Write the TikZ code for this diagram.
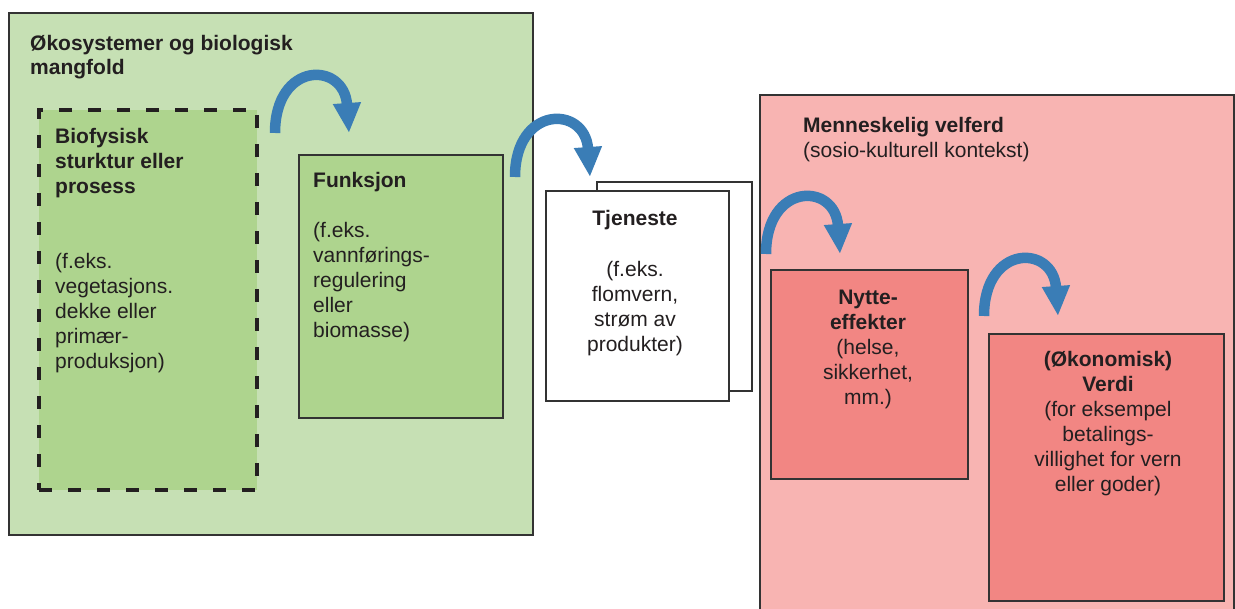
\documentclass[tikz,border=0pt]{standalone}
\usepackage{fontspec}
\setmainfont{Liberation Sans}
\usetikzlibrary{arrows.meta}
\definecolor{ecoout}{HTML}{C6E0B4}
\definecolor{ecoin}{HTML}{AED48E}
\definecolor{welout}{HTML}{F8B4B2}
\definecolor{welin}{HTML}{F28683}
\definecolor{flow}{HTML}{3A7DB6}
\definecolor{ink}{HTML}{231F20}
\definecolor{edge}{HTML}{333333}
\begin{document}
\begin{tikzpicture}[x=1pt,y=-1pt,
  box/.style={draw=edge, line width=2.5pt, inner sep=0pt, outer sep=0pt, anchor=north west},
  txt/.style={inner sep=0pt, text=ink, font=\fontsize{21}{25}\selectfont},
  flowarrow/.style={draw=flow, line width=10.5pt, -{Triangle[length=30pt,width=26pt]}},
]
\useasboundingbox (0,0) rectangle (1235,609);
\clip (0,0) rectangle (1235,609);
\fill[white] (0,0) rectangle (1235,609);
% ecosystem side
\node[box, fill=ecoout, minimum width=524pt, minimum height=522pt] (eco) at (9,13) {};
\node[box, fill=ecoin, draw=ink, line width=4pt, dash pattern=on 13pt off 16pt,
      minimum width=218pt, minimum height=380pt] (bio) at (39,110) {};
\node[box, fill=ecoin, minimum width=204pt, minimum height=263pt] (fun) at (299,155) {};
% service
\node[box, fill=white, minimum width=155pt, minimum height=209pt] (tjback) at (597,182) {};
\node[box, fill=white, minimum width=183pt, minimum height=210pt] (tj) at (546,191) {};
% welfare side
\node[box, fill=welout, line width=2pt, minimum width=474pt, minimum height=530pt] (wel) at (760,95) {};
\node[box, fill=welin, minimum width=197pt, minimum height=209pt] (nyt) at (771,270) {};
\node[box, fill=welin, minimum width=235pt, minimum height=267pt] (ver) at (989,334) {};
% texts
\node[txt, anchor=north west, align=left, font=\fontsize{21}{24}\selectfont\bfseries] (ecot) at (30,34.7)
  {Økosystemer og biologisk\\mangfold};
\node[txt, anchor=north west, align=left, font=\fontsize{21}{25}\selectfont\bfseries] (biot) at (55,127.7)
  {Biofysisk\\sturktur eller\\prosess};
\node[txt, anchor=north west, align=left] (biob) at (55,252.7)
  {(f.eks.\\vegetasjons.\\dekke eller\\primær-\\produksjon)};
\node[txt, anchor=north west, align=left, font=\fontsize{21}{25}\selectfont\bfseries] (funt) at (313,171.7)
  {Funksjon};
\node[txt, anchor=north west, align=left] (funb) at (313,221.7)
  {(f.eks.\\vannførings-\\regulering\\eller\\biomasse)};
\node[txt, anchor=north, align=center, font=\fontsize{21}{25}\selectfont\bfseries] (tjt) at (635,209.7)
  {Tjeneste};
\node[txt, anchor=north, align=center] (tjb) at (635,260.7)
  {(f.eks.\\flomvern,\\strøm av\\produkter)};
\node[txt, anchor=north west, align=left] (welt) at (803,116.7)
  {\textbf{Menneskelig velferd}\\(sosio-kulturell kontekst)};
\node[txt, anchor=north, align=center] (nytt) at (868,289.7)
  {\textbf{Nytte-}\\\textbf{effekter}\\(helse,\\sikkerhet,\\mm.)};
\node[txt, anchor=north, align=center] (vert) at (1108,350.7)
  {\textbf{(Økonomisk)}\\\textbf{Verdi}\\(for eksempel\\betalings-\\villighet for vern\\eller goder)};
% flow arrows
\coordinate (a1s) at (275,133); \coordinate (a1e) at (349,133);
\coordinate (a2s) at (515,177); \coordinate (a2e) at (590,177);
\coordinate (a3s) at (766,254); \coordinate (a3e) at (840,254);
\coordinate (a4s) at (984,316); \coordinate (a4e) at (1058,316);
\draw[flowarrow] (a1s) .. controls +(0,-72) and +(-5,-72) .. (a1e);
\draw[flowarrow] (a2s) .. controls +(0,-72) and +(-5,-72) .. (a2e);
\draw[flowarrow] (a3s) .. controls +(0,-72) and +(-5,-72) .. (a3e);
\draw[flowarrow] (a4s) .. controls +(0,-72) and +(-5,-72) .. (a4e);
\end{tikzpicture}
\end{document}
